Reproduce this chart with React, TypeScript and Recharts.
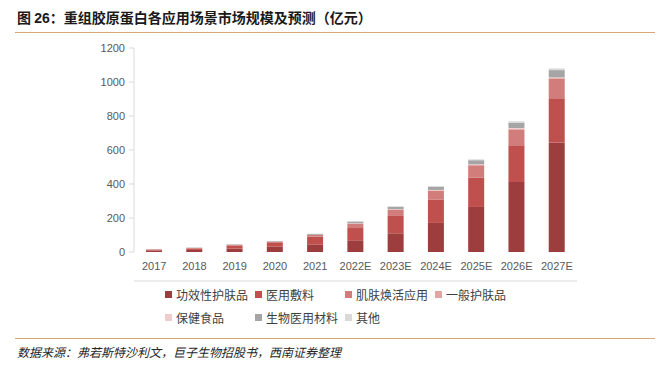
import { BarChart, Bar, XAxis, YAxis } from 'recharts'

const years = ['2017', '2018', '2019', '2020', '2021', '2022E', '2023E', '2024E', '2025E', '2026E', '2027E']
const efficacySkincare = [8, 12, 20, 31, 45, 69, 110, 171, 265, 412, 643]
const medicalDressing = [6, 9, 17, 26, 45, 72, 102, 138, 173, 216, 257]
const skinRejuvenation = [2, 3, 5, 4, 10, 25, 36, 51, 72, 92, 119]
const generalSkincare = [0, 0, 0, 0, 1, 2, 3, 3, 4, 6, 5]
const healthFood = [0, 0, 0, 0, 0, 1, 1, 2, 2, 3, 3]
const biomaterials = [1, 2, 3, 3, 5, 10, 14, 19, 24, 32, 43]
const others = [1, 1, 1, 1, 2, 3, 3, 4, 5, 8, 10]
const yTicks = [0, 200, 400, 600, 800, 1000, 1200]
const boundaryTicks = [0, 1, 2, 3, 4, 5, 6, 7, 8, 9, 10, 11]

const series = [
  { key: 'efficacy', name: '功效性护肤品', color: '#9e3d3d', values: efficacySkincare },
  { key: 'dressing', name: '医用敷料', color: '#c0504d', values: medicalDressing },
  { key: 'rejuv', name: '肌肤焕活应用', color: '#d07d7c', values: skinRejuvenation },
  { key: 'general', name: '一般护肤品', color: '#e3a5a4', values: generalSkincare },
  { key: 'food', name: '保健食品', color: '#f0cdcd', values: healthFood },
  { key: 'bio', name: '生物医用材料', color: '#a5a5a5', values: biomaterials },
  { key: 'other', name: '其他', color: '#d9d9d9', values: others },
]

const data = years.map((y, i) => {
  const row: Record<string, string | number> = { year: y }
  series.forEach(s => { row[s.key] = s.values[i] })
  return row
})

const CJK = '"Noto Sans CJK SC", "Liberation Sans", sans-serif'
const LATIN = '"Liberation Sans", "Noto Sans CJK SC", sans-serif'

export default function App() {
  return (
    <div style={{ position: 'absolute', left: 0, top: 0, width: 669, height: 365, background: '#fff', fontFamily: CJK }}>
      {/* title */}
      <div style={{ position: 'absolute', left: 17, top: 7, fontSize: 14, fontWeight: 700, color: '#1a1a1a', whiteSpace: 'nowrap' }}>
        图 <span style={{ fontFamily: LATIN }}>26</span>：重组胶原蛋白各应用场景市场规模及预测（亿元）
      </div>
      <div style={{ position: 'absolute', left: 15, top: 32, width: 640, height: 1, background: '#d9a877' }} />

      <div style={{ position: 'absolute', left: 0, top: 0 }}>
        <BarChart
          width={669}
          height={345}
          data={data}
          margin={{ top: 48, right: 92, left: 84, bottom: 63 }}
        >
          <XAxis
            xAxisId="tick"
            type="number"
            domain={[0, 11]}
            ticks={boundaryTicks}
            tick={false}
            tickSize={5}
            height={1}
            axisLine={{ stroke: '#d9d9d9' }}
            tickLine={{ stroke: '#d9d9d9' }}
          />
          <XAxis
            xAxisId="cat"
            dataKey="year"
            height={29}
            axisLine={false}
            tickLine={false}
            tickSize={0}
            tickMargin={10}
            interval={0}
            tick={{ fill: '#595959', fontSize: 11, fontFamily: LATIN }}
          />
          <YAxis
            domain={[0, 1200]}
            ticks={yTicks}
            width={50}
            tickSize={5}
            tickMargin={4}
            axisLine={{ stroke: '#d9d9d9' }}
            tickLine={{ stroke: '#d9d9d9' }}
            tick={{ fill: '#595959', fontSize: 11, fontFamily: LATIN }}
          />
          {series.map(s => (
            <Bar
              key={s.key}
              xAxisId="cat"
              dataKey={s.key}
              name={s.name}
              stackId="a"
              fill={s.color}
              barSize={16}
              isAnimationActive={false}
            />
          ))}
        </BarChart>
      </div>

      {/* legend */}
      <div
        style={{
          position: 'absolute',
          left: 165,
          top: 286,
          display: 'grid',
          gridTemplateColumns: 'repeat(4, 90px)',
          rowGap: 6,
          fontSize: 12,
          color: '#404040',
        }}
      >
        {series.map(s => (
          <div key={s.key} style={{ display: 'flex', alignItems: 'center', height: 17, whiteSpace: 'nowrap' }}>
            <span style={{ display: 'inline-block', width: 7, height: 7, background: s.color, marginRight: 4 }} />
            {s.name}
          </div>
        ))}
      </div>

      {/* source */}
      <div style={{ position: 'absolute', left: 15, top: 338, width: 640, height: 1, background: '#d9a877' }} />
      <div style={{ position: 'absolute', left: 17, top: 343, fontSize: 12, fontStyle: 'italic', color: '#262626', whiteSpace: 'nowrap' }}>
        数据来源：弗若斯特沙利文，巨子生物招股书，西南证券整理
      </div>
    </div>
  )
}
